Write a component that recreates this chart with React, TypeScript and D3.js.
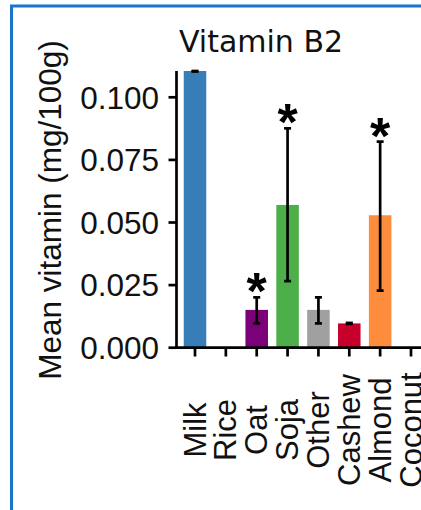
import React from "react";
import * as d3 from "d3";

const categories = ["Milk", "Rice", "Oat", "Soja", "Other", "Cashew", "Almond", "Coconut"];
const means = [0.1105, 0, 0.0151, 0.057, 0.0151, 0.0097, 0.0529, 0];
const errLow = [0.1103, null, 0.0097, 0.0266, 0.0097, 0.0095, 0.0228, null];
const errHigh = [0.1105, null, 0.0201, 0.0876, 0.0201, 0.0099, 0.0823, null];
const significant = [false, false, true, true, false, false, true, false];
const colors = ["#377EB8", "#ffffff", "#7A0177", "#4DAF4A", "#A0A0A0", "#C6002A", "#FD8D3C", "#ffffff"];
const yTicks = [0, 0.025, 0.05, 0.075, 0.1];
const title = "Vitamin B2";
const yLabel = "Mean vitamin (mg/100g)";

export default function App() {
  const W = 421, H = 510;
  const y = d3.scaleLinear().domain([0, 0.1105]).range([347.7, 71]);
  const x = d3.scalePoint<string>().domain(categories).range([195, 411]);
  const bw = x.step() * 0.73;
  const axisX = 176.5;
  const fmt = d3.format(".3f");
  const font = "'Liberation Sans', Arial, sans-serif";
  return (
    <svg width={W} height={H} style={{ position: "absolute", left: 0, top: 0, background: "#fff" }}>
      <rect x={11.5} y={6} width={600} height={700} fill="none" stroke="#1874CD" strokeWidth={3} />
      <text x={261} y={52} textAnchor="middle" fontFamily="'DejaVu Sans', sans-serif" fontSize={30} fill="#111">{title}</text>
      {categories.map((c, i) => (
        means[i] > 0 ? (
          <rect key={c} x={x(c)! - bw / 2} y={y(means[i])} width={bw} height={y(0) - y(means[i])} fill={colors[i]} />
        ) : null
      ))}
      {categories.map((c, i) => {
        if (errLow[i] == null) return null;
        const cx = x(c)!;
        const y1 = y(errLow[i] as number), y2 = y(errHigh[i] as number);
        return (
          <g key={c + "e"} stroke="#000" strokeWidth={2.7}>
            <line x1={cx} x2={cx} y1={y1} y2={y2} />
            <line x1={cx - 3.5} x2={cx + 3.5} y1={y1} y2={y1} />
            <line x1={cx - 3.5} x2={cx + 3.5} y1={y2} y2={y2} />
          </g>
        );
      })}
      {categories.map((c, i) => significant[i] ? (
        <text key={c + "s"} x={x(c)!} y={y(errHigh[i] as number) + 12} textAnchor="middle" fontFamily={font} fontWeight="bold" fontSize={52} fill="#000">*</text>
      ) : null)}
      <line x1={axisX} x2={axisX} y1={71} y2={349} stroke="#000" strokeWidth={2.7} />
      <line x1={axisX - 1.3} x2={W} y1={347.7} y2={347.7} stroke="#000" strokeWidth={2.7} />
      {yTicks.map(t => (
        <g key={t}>
          <line x1={axisX - 8} x2={axisX} y1={y(t)} y2={y(t)} stroke="#000" strokeWidth={2.7} />
          <text x={159} y={y(t)} dy="0.36em" textAnchor="end" fontFamily={font} fontSize={31.5} fill="#111">{fmt(t)}</text>
        </g>
      ))}
      {categories.map(c => (
        <g key={c + "t"}>
          <line x1={x(c)!} x2={x(c)!} y1={347.7} y2={356.5} stroke="#000" strokeWidth={2.7} />
          <text transform={`translate(${x(c)! + 10.5},430) rotate(-90)`} textAnchor="middle" fontFamily={font} fontSize={31} fill="#111">{c}</text>
        </g>
      ))}
      <text transform="translate(61,210) rotate(-90)" textAnchor="middle" fontFamily={font} fontSize={31.5} fill="#111">{yLabel}</text>
    </svg>
  );
}
